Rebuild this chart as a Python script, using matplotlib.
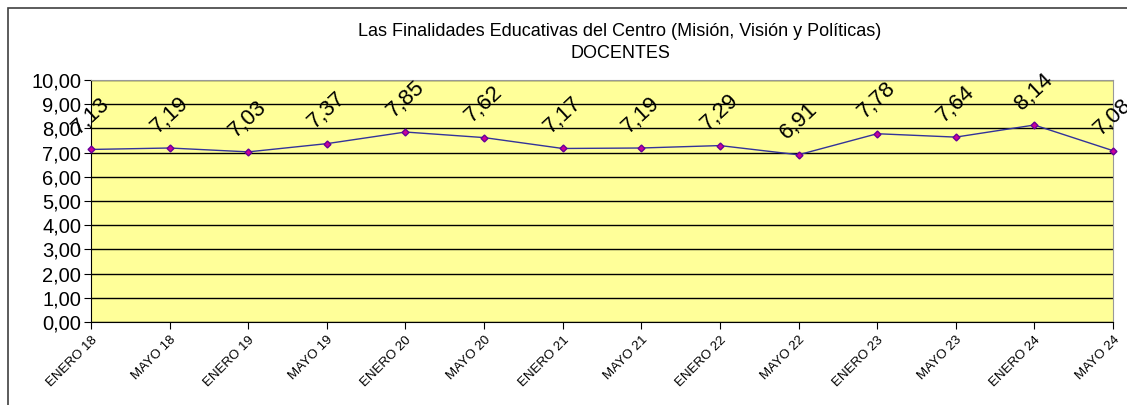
import matplotlib.pyplot as plt
from matplotlib.patches import Rectangle

periods = ["ENERO 18", "MAYO 18", "ENERO 19", "MAYO 19", "ENERO 20", "MAYO 20",
           "ENERO 21", "MAYO 21", "ENERO 22", "MAYO 22", "ENERO 23", "MAYO 23",
           "ENERO 24", "MAYO 24"]
scores = [7.13, 7.19, 7.03, 7.37, 7.85, 7.62, 7.17, 7.19, 7.29, 6.91, 7.78, 7.64, 8.14, 7.08]
yticks = [0, 1, 2, 3, 4, 5, 6, 7, 8, 9, 10]

plt.rcParams['font.family'] = ['Liberation Sans', 'DejaVu Sans']

fig = plt.figure(figsize=(11.27, 4.05), dpi=100)
fig.patches.append(Rectangle((8 / 1127, -0.1), 1.2, 1 - 8 / 405 + 0.1, transform=fig.transFigure,
                             fill=False, edgecolor='#404040', linewidth=1.2))
ax = fig.add_axes([91 / 1127, 1 - 322 / 405, (1113 - 91) / 1127, (322 - 80) / 405])
ax.set_facecolor('#FFFF99')

x = list(range(len(periods)))
ax.plot(x, scores, color='#333399', linewidth=1, marker='D', markersize=3.5,
        markerfacecolor='#CC0099', markeredgecolor='#660099', zorder=3, clip_on=False)

# data labels, rotated like the spreadsheet chart
for xi, v in zip(x, scores):
    ax.annotate(f"{v:.2f}".replace('.', ','), (xi, v), xytext=(0, 24), textcoords='offset points',
                ha='center', va='center', rotation=43, fontsize=16, color='black', zorder=4,
                annotation_clip=False, clip_on=False)

ax.set_xlim(0, len(periods) - 1)
ax.set_ylim(0, 10)
ax.set_yticks(yticks)
ax.set_yticklabels([f"{t:.2f}".replace('.', ',') for t in yticks], fontsize=14.5)
ax.set_xticks(x)
ax.set_xticklabels(periods, rotation=45, ha='right', rotation_mode='anchor', fontsize=9.5)
ax.grid(axis='y', color='black', linewidth=1)
ax.set_axisbelow(True)
for side in ['top', 'right']:
    ax.spines[side].set_color('#999999')
ax.spines['left'].set_color('black')
ax.spines['bottom'].set_color('black')
ax.tick_params(axis='both', direction='out', length=5, color='black')
ax.tick_params(axis='y', pad=2)

fig.text(620 / 1127, 1 - 32 / 405, "Las Finalidades Educativas del Centro (Misión, Visión y Políticas)",
         ha='center', va='center', fontsize=13)
fig.text(620 / 1127, 1 - 54 / 405, "DOCENTES", ha='center', va='center', fontsize=13)

fig.savefig("out.png", dpi=100)
